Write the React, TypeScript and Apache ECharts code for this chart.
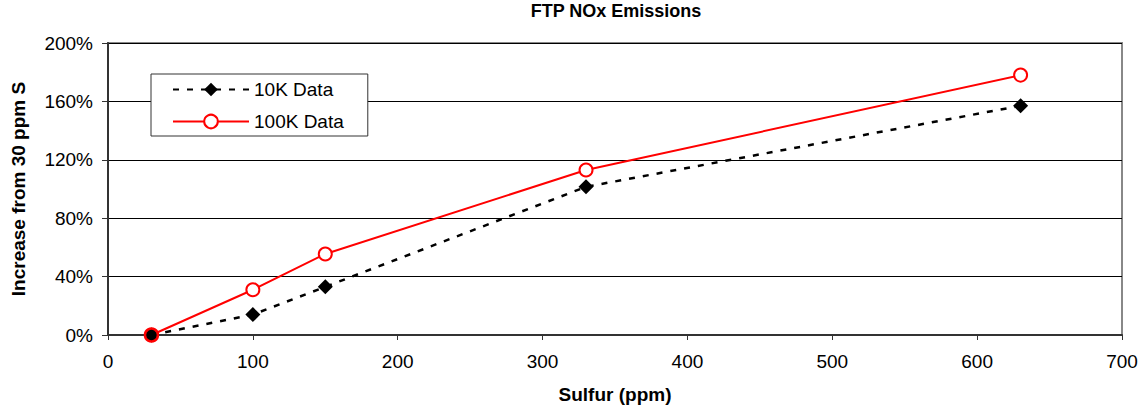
import React, { useEffect, useRef } from "react";
import * as echarts from "echarts";

const sulfur = [30, 100, 150, 330, 630];
const data10K = [0, 14, 33, 101.5, 157];
const data100K = [0, 31, 55.5, 113, 178];
const xTicks = [0, 100, 200, 300, 400, 500, 600, 700];
const yTicks = [0, 40, 80, 120, 160, 200];

const FONT = "'Liberation Sans', Arial, sans-serif";

export default function App() {
  const ref = useRef<HTMLDivElement>(null);
  useEffect(() => {
    if (!ref.current) return;
    const chart = echarts.init(ref.current, null, { renderer: "svg" });
    chart.setOption({
      animation: false,
      backgroundColor: "#fff",
      textStyle: { fontFamily: FONT },
      title: {
        text: "FTP NOx Emissions",
        left: 616,
        top: 2,
        padding: 0,
        textAlign: "center",
        textStyle: { fontFamily: FONT, fontSize: 18, fontWeight: "bold", color: "#000" },
      },
      legend: {
        orient: "vertical",
        left: 151,
        top: 74,
        padding: [6, 24, 5, 21],
        itemWidth: 76,
        itemHeight: 17,
        itemGap: 13,
        itemTextGap: 6,
        backgroundColor: "#fff",
        borderColor: "#333",
        borderWidth: 1,
        textStyle: { fontFamily: FONT, fontSize: 19, color: "#000" },
        data: ["10K Data", "100K Data"],
      },
      grid: {
        left: 108,
        right: 24,
        top: 43,
        bottom: 78,
        show: true,
        borderColor: "#888",
        borderWidth: 2,
        backgroundColor: "transparent",
      },
      xAxis: {
        type: "value",
        min: 0,
        max: xTicks[xTicks.length - 1],
        interval: 100,
        name: "Sulfur (ppm)",
        nameLocation: "middle",
        nameGap: 50,
        nameTextStyle: { fontFamily: FONT, fontSize: 19, fontWeight: "bold", color: "#000" },
        axisLine: { show: true, lineStyle: { color: "#333", width: 2 } },
        axisTick: { show: true, length: 5, lineStyle: { color: "#333", width: 1 } },
        axisLabel: {
          margin: 17,
          fontFamily: FONT,
          fontSize: 19,
          color: "#000",
          formatter: (v: number) => (xTicks.includes(v) ? String(v) : ""),
        },
        splitLine: { show: false },
      },
      yAxis: {
        type: "value",
        min: 0,
        max: yTicks[yTicks.length - 1],
        interval: 40,
        name: "Increase from 30 ppm S",
        nameLocation: "middle",
        nameGap: 80,
        nameTextStyle: { fontFamily: FONT, fontSize: 19, fontWeight: "bold", color: "#000" },
        axisLine: { show: true, lineStyle: { color: "#333", width: 2 } },
        axisTick: { show: true, length: 6, lineStyle: { color: "#333", width: 1 } },
        axisLabel: {
          margin: 15,
          fontFamily: FONT,
          fontSize: 19,
          color: "#000",
          formatter: "{value}%",
        },
        splitLine: { show: true, lineStyle: { color: "#000", width: 1 } },
      },
      series: [
        {
          name: "10K Data",
          type: "line",
          data: sulfur.map((x, i) => [x, data10K[i]]),
          symbol: "diamond",
          symbolSize: 15,
          itemStyle: { color: "#000" },
          lineStyle: { color: "#000", width: 2.5, type: [6, 8] },
          z: 3,
        },
        {
          name: "100K Data",
          type: "line",
          data: sulfur.map((x, i) =>
            i === 0
              ? { value: [x, data100K[i]], itemStyle: { color: "#000", borderColor: "#ff0000", borderWidth: 2.5 } }
              : [x, data100K[i]]
          ),
          symbol: "circle",
          symbolSize: 13,
          itemStyle: { color: "#fff", borderColor: "#ff0000", borderWidth: 2 },
          lineStyle: { color: "#ff0000", width: 2, type: "solid" },
          z: 4,
        },
      ],
    });
    return () => chart.dispose();
  }, []);
  return (
    <div
      ref={ref}
      style={{ position: "absolute", left: 0, top: 0, width: 1146, height: 413 }}
    />
  );
}
